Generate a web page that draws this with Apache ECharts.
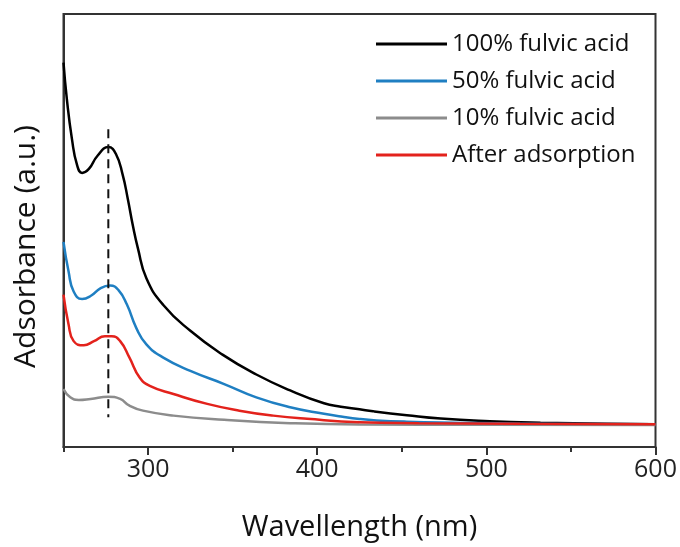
<!DOCTYPE html>
<html><head><meta charset="utf-8">
<script src="https://cdn.jsdelivr.net/npm/echarts@6/dist/echarts.min.js"></script>
<style>html,body{margin:0;padding:0;background:#fff}#c{width:680px;height:547px}</style>
</head><body><div id="c"></div>
<script>
// Series names (legend order)
const seriesNames = ['100% fulvic acid', '50% fulvic acid', '10% fulvic acid', 'After adsorption'];
const seriesColors = ['#000000', '#1f7fc2', '#8c8c8c', '#e3221c'];

// [wavelength (nm), absorbance (a.u.)]
const black100 = [
  [250,1.935],[252,1.75],[255,1.55],[258,1.42],[261,1.38],[265,1.40],[270,1.465],[276.5,1.51],
  [281,1.475],[285,1.37],[288,1.25],[291,1.115],[294,1.0],[299,0.85],[309,0.715],[325,0.585],
  [344,0.465],[364,0.365],[384,0.285],[404,0.22],[414,0.203],[425,0.19],[433,0.18],[453,0.16],
  [473,0.143],[502,0.13],[532,0.1225],[571,0.1175],[600,0.115]
];
const blue50 = [
  [250,1.033],[253,0.883],[256,0.783],[261,0.745],[266,0.76],[272,0.80],[277.5,0.813],[282.5,0.79],
  [287.5,0.717],[293,0.60],[299,0.517],[309,0.45],[325,0.383],[345,0.317],[364,0.25],[384,0.20],
  [404,0.167],[415,0.152],[425,0.141],[435,0.134],[453,0.1275],[480,0.1225],[520,0.1175],[600,0.115]
];
const gray10 = [
  [250,0.292],[254,0.25],[259,0.237],[266,0.242],[276.5,0.253],[283.5,0.242],[289,0.208],[297,0.183],
  [315,0.158],[345,0.137],[384,0.12],[425,0.113],[500,0.112],[600,0.111]
];
const redAfter = [
  [250,0.767],[253,0.617],[256,0.533],[262,0.512],[268,0.533],[274.5,0.558],[278.5,0.558],[283.5,0.533],
  [289,0.45],[295,0.35],[301,0.308],[315,0.267],[335,0.217],[354,0.183],[374,0.158],[394,0.142],
  [425,0.125],[460,0.12],[520,0.117],[600,0.115]
];
// dashed marker at the ~277 nm peak
const peakLine = [[276.5,1.60],[276.5,0.15]];

// x axis range, labelled (major) ticks and minor ticks
const xMin = 250, xMax = 600;
const xMajor = [300, 400, 500, 600];
const xMinor = [250, 350, 450, 550];

const FONT = 'Open Sans';
const chart = echarts.init(document.getElementById('c'), null, {renderer:'canvas'});
const data = [black100, blue50, gray10, redAfter];

const series = data.map((d, i) => ({
  name: seriesNames[i], type: 'line', data: d, symbol: 'none', showSymbol: false,
  smooth: 0.5,
  lineStyle: {color: seriesColors[i], width: 2.5}, itemStyle: {color: seriesColors[i]},
  z: 2 + i, animation: false
}));
series.push({
  name: 'peak', type: 'line', data: peakLine, symbol: 'none', silent: true,
  lineStyle: {color: '#111', width: 2, type: [9, 6]}, z: 10, animation: false
});

chart.setOption({
  animation: false,
  backgroundColor: '#fff',
  grid: {left: 63.5, right: 24.5, top: 14, bottom: 97, show: true, borderColor: '#333', borderWidth: 2, backgroundColor: 'transparent'},
  legend: {
    data: seriesNames, orient: 'vertical', left: 371, top: 26, itemWidth: 71, itemHeight: 3,
    icon: 'rect', itemGap: 11,
    textStyle: {fontFamily: FONT, fontSize: 24, color: '#111', lineHeight: 26}
  },
  xAxis: [{
    type: 'value', min: xMin, max: xMax,
    name: 'Wavellength (nm)', nameLocation: 'middle', nameGap: 66,
    nameTextStyle: {fontFamily: FONT, fontSize: 29, color: '#111'},
    axisLine: {show: true, lineStyle: {color: '#333', width: 2}},
    axisTick: {show: true, length: 8, customValues: xMajor, lineStyle: {color: '#333', width: 2}},
    axisLabel: {margin: 10, fontFamily: FONT, fontSize: 25, color: '#222', customValues: xMajor},
    splitLine: {show: false}
  }, {
    type: 'value', min: xMin, max: xMax, position: 'bottom',
    axisLine: {show: false},
    axisTick: {show: true, length: 5, customValues: xMinor, lineStyle: {color: '#333', width: 2}},
    axisLabel: {show: false}, splitLine: {show: false}
  }],
  yAxis: {
    type: 'value', min: 0, max: 2.18,
    name: 'Adsorbance (a.u.)', nameLocation: 'middle', nameGap: 22,
    nameTextStyle: {fontFamily: FONT, fontSize: 30, color: '#111', padding: [0, 32, 0, 0]},
    axisLine: {show: true, lineStyle: {color: '#333', width: 2}},
    axisTick: {show: false}, axisLabel: {show: false}, splitLine: {show: false}
  },
  series
});
</script></body></html>
